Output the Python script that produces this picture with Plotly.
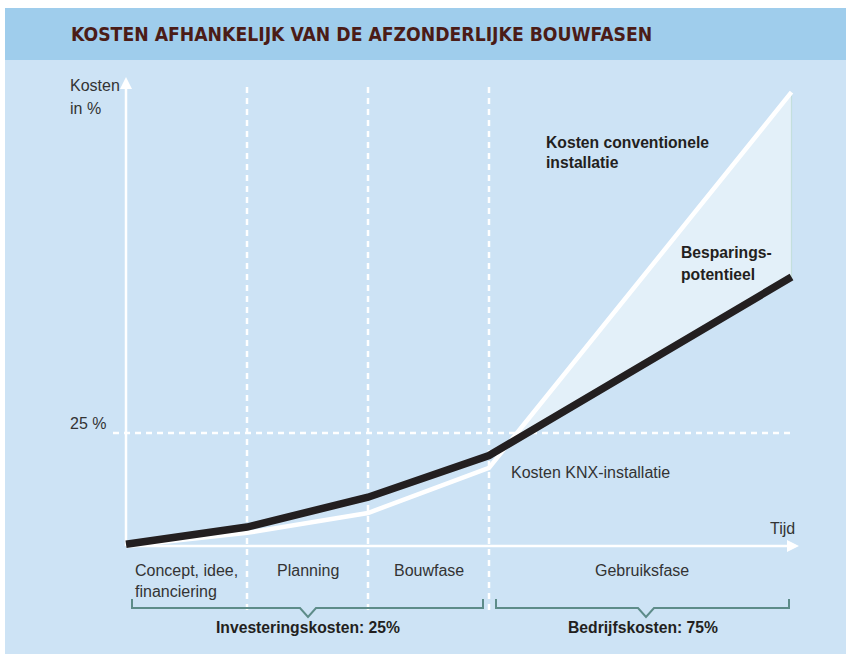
import numpy as np
import plotly.graph_objects as go

# ---------------- data ----------------
phase_x = [0, 1, 2, 3, 5.5]                     # time: phase boundaries + end
knx_cost = [0.4, 4.2, 10.8, 20.0, 59.5]          # Kosten KNX-installatie (%)
conv_cost = [0.0, 2.9, 7.3, 17.3, 100.4]         # Kosten conventionele installatie (%)
ref_level = 25                                   # 25 % line
phase_labels = ["Planning", "Bouwfase", "Gebruiksfase"]
first_phase = ["Concept, idee,", "financiering"]
group_labels = ["Investeringskosten: 25%", "Bedrijfskosten: 75%"]

W, H = 846, 655
PX_X0, PX_PER_X = 126, 121.0
PX_Y0, PX_PER_Y = 546, 4.52

def px(xp):  # pixel -> paper x
    return xp / W

def py(yp):  # pixel -> paper y
    return 1 - yp / H

# intersection of curves in last segment -> fill polygon
x = np.array(phase_x, float)
k = np.array(knx_cost, float)
c = np.array(conv_cost, float)
d = c - k
i = int(np.where((d[:-1] <= 0) & (d[1:] > 0))[0][-1])
t = -d[i] / (d[i + 1] - d[i])
xi = x[i] + t * (x[i + 1] - x[i])
yi = k[i] + t * (k[i + 1] - k[i])
fill_x = [xi] + list(x[i + 1:]) + list(x[i + 1:][::-1])
fill_y = [yi] + list(c[i + 1:]) + list(k[i + 1:][::-1])

BODY = "Liberation Sans, Arial, sans-serif"
TXT = "#333333"
DARK = "#231f20"
BR = "#5d8c89"

fig = go.Figure()
fig.add_trace(go.Scatter(x=fill_x + [fill_x[0]], y=fill_y + [fill_y[0]], fill="toself",
                         fillcolor="#e3f0f9", line=dict(width=0), mode="lines",
                         hoverinfo="skip", showlegend=False))
fig.add_trace(go.Scatter(x=[x[-1], x[-1]], y=[k[-1], c[-1]], mode="lines",
                         line=dict(color="#c4dfdc", width=1.2), hoverinfo="skip", showlegend=False))
fig.add_trace(go.Scatter(x=phase_x, y=conv_cost, mode="lines",
                         line=dict(color="white", width=4.5), showlegend=False,
                         name="Kosten conventionele installatie"))
fig.add_trace(go.Scatter(x=phase_x, y=knx_cost, mode="lines",
                         line=dict(color=DARK, width=7.5), showlegend=False,
                         name="Kosten KNX-installatie"))

shapes = []
# backgrounds
shapes.append(dict(type="rect", xref="paper", yref="paper", x0=px(5), x1=1, y0=py(60), y1=py(8),
                   fillcolor="#9fcdec", line=dict(width=0), layer="below"))
shapes.append(dict(type="rect", xref="paper", yref="paper", x0=px(5), x1=1, y0=py(654), y1=py(60),
                   fillcolor="#cde3f5", line=dict(width=0), layer="below"))
# vertical dashed phase lines
y_top = (PX_Y0 - 83) / PX_PER_Y
y_bot = (PX_Y0 - 610) / PX_PER_Y
for xv in phase_x[1:4]:
    shapes.append(dict(type="line", xref="x", yref="y", x0=xv, x1=xv, y0=y_bot, y1=y_top,
                       line=dict(color="white", width=2.5, dash="6px,5px"), layer="below"))
# horizontal 25 % dashed line
shapes.append(dict(type="line", xref="x", yref="y", x0=(113 - PX_X0) / PX_PER_X,
                   x1=(790 - PX_X0) / PX_PER_X, y0=ref_level, y1=ref_level,
                   line=dict(color="white", width=2.5, dash="6px,5px"), layer="below"))
# axes
shapes.append(dict(type="line", xref="x", yref="y", x0=0, x1=0, y0=0, y1=(PX_Y0 - 84) / PX_PER_Y,
                   line=dict(color="white", width=2.5), layer="below"))
shapes.append(dict(type="line", xref="x", yref="y", x0=0, x1=(792 - PX_X0) / PX_PER_X, y0=0, y1=0,
                   line=dict(color="white", width=2.5), layer="below"))

# brackets
def bracket(x0, x1, xm):
    p = (f"M {px(x0)} {py(599)} L {px(x0)} {py(608)} L {px(xm-8)} {py(608)} "
         f"L {px(xm)} {py(617)} L {px(xm+8)} {py(608)} L {px(x1)} {py(608)} L {px(x1)} {py(599)}")
    return dict(type="path", xref="paper", yref="paper", path=p, line=dict(color=BR, width=2))
shapes.append(bracket(132, 483, 308))
shapes.append(bracket(496, 789, 646))

ann = []
def txt(s, xp, yp, anchor="left", size=16, color=TXT, bold=False, family=BODY):
    ann.append(dict(text=f"<b>{s}</b>" if bold else s, xref="paper", yref="paper",
                    x=px(xp), y=py(yp), xanchor=anchor, yanchor="middle", showarrow=False,
                    font=dict(size=size, color=color, family=family)))

BS = 15.7
txt("KOSTEN AFHANKELIJK VAN DE AFZONDERLIJKE BOUWFASEN", 69, 34, size=19.2, color="#4b1c17",
    bold=True, family="Liberation Sans Narrow, DejaVu Sans Condensed, Arial Narrow, sans-serif")
txt("Kosten", 68, 86)
txt("in %", 68, 108)
txt(f"{ref_level} %", 68, 423)
txt("Tijd", 797, 528, anchor="right")
txt(first_phase[0], 133, 570)
txt(first_phase[1], 133, 591)
for lab, cx in zip(phase_labels, [308, 429, 642]):
    txt(lab, cx, 570, anchor="center")
txt(group_labels[0], 308, 627, anchor="center", size=BS, color=DARK, bold=True)
txt(group_labels[1], 643, 627, anchor="center", size=BS, color=DARK, bold=True)
txt("Kosten KNX-installatie", 509, 472)
txt("Kosten conventionele", 544, 142, size=BS, color=DARK, bold=True)
txt("installatie", 544, 163, size=BS, color=DARK, bold=True)
txt("Besparings-", 679, 253, size=BS, color=DARK, bold=True)
txt("potentieel", 679, 274, size=BS, color=DARK, bold=True)

# axis arrowheads
ann.append(dict(x=(799 - PX_X0) / PX_PER_X, y=0, xref="x", yref="y", ax=-20, ay=0, text="",
                showarrow=True, arrowhead=2, arrowsize=1.2, arrowwidth=2, arrowcolor="white"))
ann.append(dict(x=0, y=(PX_Y0 - 77) / PX_PER_Y, xref="x", yref="y", ax=0, ay=20, text="",
                showarrow=True, arrowhead=2, arrowsize=1.2, arrowwidth=2, arrowcolor="white"))

fig.update_layout(
    width=W, height=H, margin=dict(l=0, r=0, t=0, b=0),
    paper_bgcolor="white", plot_bgcolor="rgba(0,0,0,0)",
    xaxis=dict(visible=False, range=[-PX_X0 / PX_PER_X, (W - PX_X0) / PX_PER_X], fixedrange=True),
    yaxis=dict(visible=False, range=[-(H - PX_Y0) / PX_PER_Y, PX_Y0 / PX_PER_Y], fixedrange=True),
    shapes=shapes, annotations=ann, showlegend=False, hovermode=False,
)
fig.write_html("out.html", config={"displayModeBar": False},
               post_script="document.body.style.margin='0px';document.body.style.overflow='hidden';")
